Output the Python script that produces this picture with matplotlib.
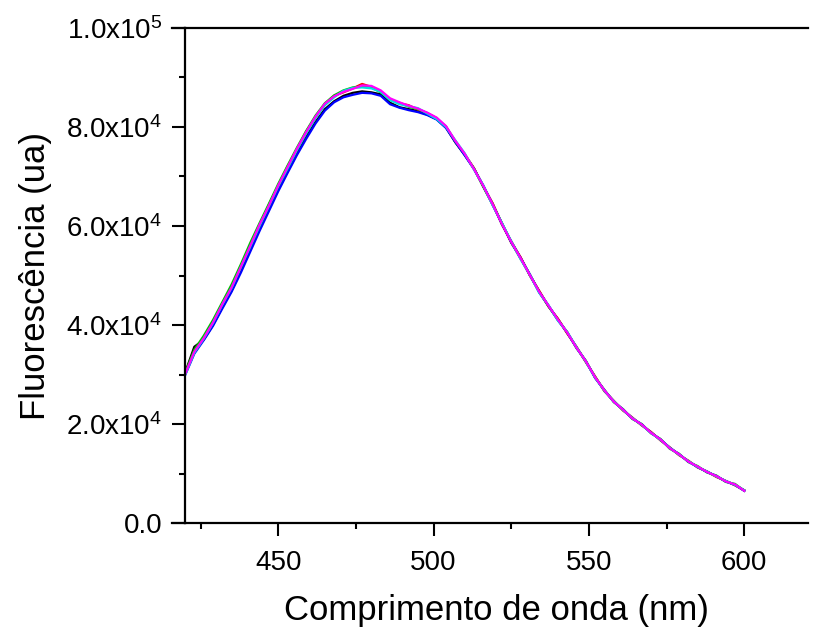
import matplotlib
matplotlib.use("Agg")
import matplotlib.pyplot as plt
from matplotlib.ticker import FixedLocator, MultipleLocator
from matplotlib.lines import Line2D
import numpy as np

plt.rcParams['font.family'] = ['Liberation Sans', 'DejaVu Sans']
plt.rcParams['mathtext.fontset'] = 'custom'
plt.rcParams['mathtext.rm'] = 'Liberation Sans'

# wavelengths (nm), 3 nm step from 420 to 600
wavelength = list(range(420, 601, 3))

# fluorescence, in thousands of a.u.
black = [30.3, 35.6, 37.0, 40.0, 43.6, 47.0, 51.0, 55.3, 59.5, 63.4, 67.4, 71.0, 74.6, 78.0, 81.0,
         83.6, 85.2, 86.3, 86.9, 87.2, 87.0, 86.6, 84.9, 84.0, 83.6, 83.2, 82.5, 81.6, 79.9, 76.9,
         74.4, 71.6, 68.0, 64.5, 60.3, 56.9, 53.6, 50.0, 46.8, 43.8, 41.2, 38.4, 35.5, 32.6, 29.5,
         26.7, 24.6, 22.8, 21.2, 19.8, 18.3, 16.8, 15.2, 13.8, 12.5, 11.3, 10.4, 9.4, 8.5, 7.7, 6.6]
red = [30.1, 34.8, 37.5, 40.6, 44.0, 47.8, 51.6, 56.2, 60.1, 64.3, 68.0, 72.0, 75.4, 79.1, 81.9,
       84.5, 86.3, 87.0, 87.8, 88.7, 88.1, 87.2, 85.6, 84.8, 84.4, 83.5, 82.8, 81.8, 80.0, 77.1,
       74.5, 71.7, 68.0, 64.6, 60.5, 56.6, 53.7, 50.0, 46.9, 43.7, 41.3, 38.3, 35.6, 32.5, 29.6,
       26.6, 24.7, 22.7, 21.3, 19.7, 18.4, 16.7, 15.3, 13.7, 12.6, 11.2, 10.4, 9.3, 8.5, 7.6, 6.6]
green = [30.2, 35.0, 37.8, 41.0, 44.6, 48.2, 52.3, 56.6, 60.6, 64.5, 68.5, 72.2, 75.8, 79.2, 82.3,
         84.8, 86.4, 87.4, 88.0, 88.2, 88.0, 87.0, 85.5, 84.9, 84.1, 83.6, 82.8, 81.7, 80.1, 77.0,
         74.4, 71.6, 67.9, 64.3, 60.6, 56.7, 53.4, 50.2, 46.6, 43.8, 41.0, 38.6, 35.3, 32.8, 29.3,
         26.9, 24.4, 23.0, 21.0, 20.0, 18.1, 17.0, 15.0, 14.0, 12.3, 11.5, 10.2, 9.6, 8.3, 7.9, 6.5]
blue = [29.8, 34.2, 36.9, 39.8, 43.3, 46.7, 50.6, 54.8, 59.0, 63.0, 67.0, 70.7, 74.3, 77.6, 80.7,
        83.3, 85.0, 86.0, 86.5, 86.9, 86.8, 86.3, 84.6, 83.9, 83.4, 83.0, 82.4, 81.5, 79.8, 77.0,
        74.3, 71.5, 68.2, 64.3, 60.5, 56.7, 53.5, 50.2, 46.6, 43.9, 41.0, 38.5, 35.4, 32.7, 29.3,
        26.8, 24.5, 22.9, 21.1, 19.9, 18.2, 16.9, 15.2, 13.9, 12.4, 11.3, 10.3, 9.5, 8.4, 7.7, 6.5]
cyan = [29.9, 34.4, 37.2, 40.4, 44.1, 47.5, 51.7, 55.8, 60.0, 64.0, 68.0, 71.6, 75.3, 78.7, 81.8,
        84.4, 86.0, 87.3, 87.9, 88.0, 87.8, 87.1, 85.4, 84.6, 84.2, 83.8, 82.7, 81.6, 80.0, 77.3,
        74.7, 71.4, 68.2, 64.2, 60.6, 56.9, 53.3, 50.1, 46.5, 44.0, 40.9, 38.6, 35.5, 32.6, 29.4,
        26.7, 24.6, 22.8, 21.2, 19.8, 18.2, 16.8, 15.2, 13.8, 12.5, 11.3, 10.4, 9.4, 8.5, 7.7, 6.6]
magenta = [30.0, 34.6, 37.3, 40.5, 44.2, 47.6, 51.8, 56.0, 60.3, 64.1, 68.2, 71.9, 75.6, 79.0, 82.1,
           84.7, 86.2, 87.1, 87.7, 88.4, 88.3, 87.4, 85.8, 85.0, 84.3, 83.7, 82.9, 81.9, 80.2, 77.2,
           74.6, 71.5, 68.1, 64.4, 60.4, 56.8, 53.5, 50.1, 46.7, 43.9, 41.1, 38.5, 35.4, 32.7, 29.4,
           26.8, 24.5, 22.9, 21.1, 19.9, 18.2, 16.9, 15.1, 13.9, 12.4, 11.4, 10.3, 9.5, 8.4, 7.8, 6.5]

series = [black, red, green, blue, cyan, magenta]
colors = ['#000000', '#ff0000', '#00c000', '#0000ff', '#00e0e0', '#ff00ff']

x_ticks = [450, 500, 550, 600]
y_ticks = [0, 20000, 40000, 60000, 80000, 100000]
y_tick_labels = ['0.0', r'$\mathregular{2.0x10^{4}}$', r'$\mathregular{4.0x10^{4}}$',
                 r'$\mathregular{6.0x10^{4}}$', r'$\mathregular{8.0x10^{4}}$',
                 r'$\mathregular{1.0x10^{5}}$']

fig = plt.figure(figsize=(8.13, 6.35), dpi=100)
ax = fig.add_axes([185 / 813, 1 - 523 / 635, (808 - 185) / 813, (523 - 28) / 635])

x = np.array(wavelength)
for s, c in zip(series, colors):
    ax.plot(x, np.array(s) * 1000, color=c, lw=1.6)

ax.set_xlim(420, 620.5)
ax.set_ylim(0, 100000)

ax.xaxis.set_major_locator(FixedLocator(x_ticks))
ax.xaxis.set_minor_locator(MultipleLocator(25))
ax.yaxis.set_major_locator(FixedLocator(y_ticks))
ax.yaxis.set_minor_locator(MultipleLocator(10000))
ax.set_yticklabels(y_tick_labels)

ax.spines['right'].set_visible(False)
for sp in ['left', 'top', 'bottom']:
    ax.spines[sp].set_linewidth(1.6)

ax.tick_params(which='major', direction='out', length=9.5, width=1.5, labelsize=20)
ax.tick_params(which='minor', direction='out', length=4.5, width=1.5)
ax.tick_params(axis='y', which='major', pad=7)
ax.tick_params(axis='x', which='major', pad=10)

# extend top and bottom axis lines slightly to the left of the y axis
ext = 13 / 623
for yy in (0, 1):
    ax.add_line(Line2D([-ext, 0], [yy, yy], transform=ax.transAxes, color='black',
                       lw=1.6, clip_on=False))

ax.set_xlabel('Comprimento de onda (nm)', fontsize=25, labelpad=13)
ax.set_ylabel('Fluorescência (ua)', fontsize=25, labelpad=10)

fig.savefig('out.png', dpi=100)
